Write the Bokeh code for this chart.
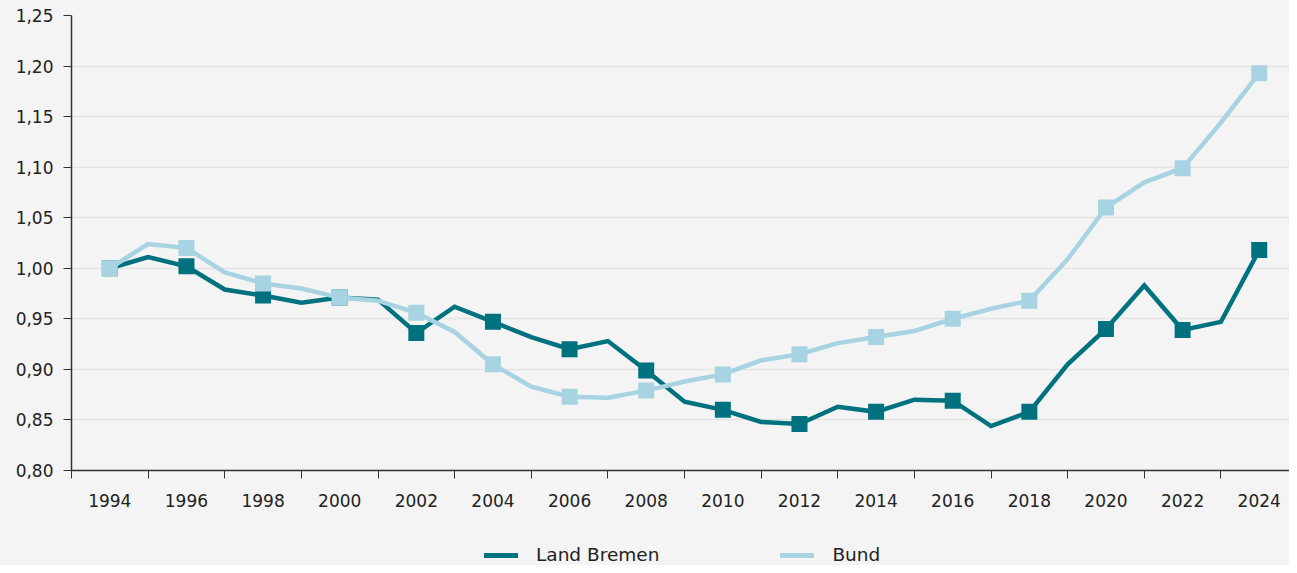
from bokeh.plotting import figure
from bokeh.layouts import column
from bokeh.models import (FixedTicker, CustomJSTickFormatter, Legend, LegendItem, Range1d)
from bokeh.embed import file_html
from bokeh.resources import INLINE

years = list(range(1994, 2025))
land_bremen = [1.000, 1.011, 1.002, 0.979, 0.973, 0.966, 0.971, 0.969, 0.936, 0.962,
               0.947, 0.932, 0.920, 0.928, 0.899, 0.868, 0.860, 0.848, 0.846, 0.863,
               0.858, 0.870, 0.869, 0.844, 0.858, 0.905, 0.940, 0.983, 0.939, 0.947,
               1.018]
bund = [1.000, 1.024, 1.020, 0.996, 0.985, 0.980, 0.971, 0.968, 0.956, 0.937,
        0.905, 0.883, 0.873, 0.872, 0.879, 0.888, 0.895, 0.909, 0.915, 0.926,
        0.932, 0.938, 0.950, 0.960, 0.968, 1.009, 1.060, 1.085, 1.099, 1.144,
        1.193]
series_names = ["Land Bremen", "Bund"]
x_labels = list(range(1994, 2025, 2))
x_tick_marks = list(range(1993, 2025, 2))
y_ticks = [0.80, 0.85, 0.90, 0.95, 1.00, 1.05, 1.10, 1.15, 1.20, 1.25]

marker_years = years[::2]
lb_marks = land_bremen[::2]
bund_marks = bund[::2]

DARK = "#00727f"
LIGHT = "#a8d3e2"
BG = "#f3f4f3"
FONT = "DejaVu Sans"
TXT = "#222222"
W = 1289

p = figure(width=W, height=510, output_backend="svg", toolbar_location=None,
           x_range=Range1d(1993, 2024.79), y_range=Range1d(0.80, 1.25),
           background_fill_color=BG, border_fill_color=BG,
           min_border_left=71, min_border_right=0, min_border_top=15, min_border_bottom=40)
p.outline_line_color = None

p.line(years, land_bremen, line_color=DARK, line_width=4.5, line_join="miter")
p.scatter(marker_years, lb_marks, marker="square", size=16, fill_color=DARK, line_color=None)
p.line(years, bund, line_color=LIGHT, line_width=4.5, line_join="miter")
p.scatter(marker_years, bund_marks, marker="square", size=16, fill_color=LIGHT, line_color=None)

# x axis
p.xaxis.ticker = FixedTicker(ticks=x_labels, minor_ticks=x_tick_marks)
p.xaxis.major_tick_out = 0
p.xaxis.major_tick_in = 0
p.xaxis.minor_tick_out = 8
p.xaxis.minor_tick_in = 0
p.xaxis.minor_tick_line_color = "#333333"
p.xaxis.axis_line_color = "#333333"
p.xaxis.axis_line_width = 1.5
p.xaxis.major_label_text_font = FONT
p.xaxis.major_label_text_font_size = "17px"
p.xaxis.major_label_text_color = TXT
p.xaxis.major_label_standoff = 15
p.xgrid.grid_line_color = None

# y axis
p.yaxis.ticker = FixedTicker(ticks=y_ticks)
p.yaxis.formatter = CustomJSTickFormatter(code="return tick.toFixed(2).replace('.', ',');")
p.yaxis.major_tick_out = 8
p.yaxis.major_tick_in = 0
p.yaxis.minor_tick_out = 0
p.yaxis.minor_tick_in = 0
p.yaxis.major_tick_line_color = "#333333"
p.yaxis.axis_line_color = "#333333"
p.yaxis.axis_line_width = 1.5
p.yaxis.major_label_text_font = FONT
p.yaxis.major_label_text_font_size = "17px"
p.yaxis.major_label_text_color = TXT
p.yaxis.major_label_standoff = 10
p.ygrid.grid_line_color = "#e2e3e2"
p.ygrid.grid_line_width = 1.5

# legend strip
lg = figure(width=W, height=55, output_backend="svg", toolbar_location=None,
            x_range=Range1d(0, 1), y_range=Range1d(0, 1),
            background_fill_color=BG, border_fill_color=BG,
            min_border_left=71, min_border_right=0, min_border_top=0, min_border_bottom=0)
lg.outline_line_color = None
lg.axis.visible = False
lg.grid.grid_line_color = None
nan = float("nan")
d1 = lg.line(x=[nan], y=[nan], line_color=DARK, line_width=5, line_cap="round")
d2 = lg.line(x=[nan], y=[nan], line_color=LIGHT, line_width=5, line_cap="round")
legend = Legend(items=[LegendItem(label=series_names[0], renderers=[d1]),
                       LegendItem(label=series_names[1], renderers=[d2])],
                orientation="horizontal", location=(413, 0),
                background_fill_alpha=0, border_line_color=None,
                glyph_width=34, glyph_height=20, label_standoff=18, spacing=121,
                label_text_font=FONT, label_text_font_size="18.5px", label_text_color=TXT,
                label_height=20, margin=0, padding=0)
lg.add_layout(legend, "center")

layout = column(p, lg, spacing=0, styles={"background-color": BG})
open("out.html", "w").write(file_html(layout, INLINE))
